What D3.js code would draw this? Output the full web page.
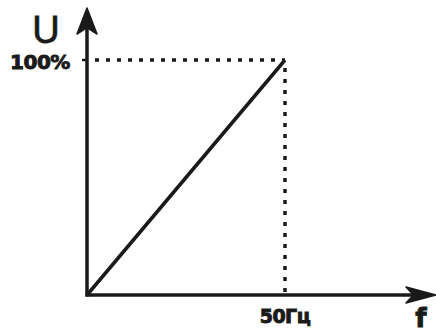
<!DOCTYPE html>
<html>
<head>
<meta charset="utf-8">
<script src="https://cdn.jsdelivr.net/npm/d3@7"></script>
<style>
  html, body { margin: 0; padding: 0; background: #fff; }
  svg { display: block; }
</style>
</head>
<body>
<script>
// U/f characteristic: voltage rises linearly up to 100% at 50 Hz
const freq = [0, 50]
const volt = [0, 100]
const xTickLabels = ['50Гц']
const yTickLabels = ['100%']
const axisLabels = { x: 'f', y: 'U' }

const W = 436, H = 334
const ink = '#1a1a1a'

const x = d3.scaleLinear().domain([0, 50]).range([87, 285])
const y = d3.scaleLinear().domain([0, 100]).range([295, 60])

const svg = d3.select('body').append('svg')
  .attr('width', W).attr('height', H)

// barbed arrowhead, drawn as a path at the end of each axis
function arrowHead(g, tipX, tipY, angle, len, half) {
  g.append('path')
    .attr('d', `M0,0 L${-len},${-half} L${-len * 0.75},0 L${-len},${half} Z`)
    .attr('transform', `translate(${tipX},${tipY}) rotate(${angle})`)
    .attr('fill', ink)
    .attr('stroke', ink)
    .attr('stroke-width', 1.5)
    .attr('stroke-linejoin', 'round')
}

// guide lines (dotted)
const guides = svg.append('g')
  .attr('stroke', ink)
  .attr('stroke-width', 3.5)
  .attr('stroke-dasharray', '4 7')
  .attr('fill', 'none')

guides.append('line')
  .attr('x1', x(0) + 8).attr('x2', x(freq[1]))
  .attr('y1', y(volt[1])).attr('y2', y(volt[1]))
guides.append('line')
  .attr('x1', x(freq[1])).attr('x2', x(freq[1]))
  .attr('y1', y(volt[1]) + 8).attr('y2', y(0))

// axes
const axes = svg.append('g').attr('stroke', ink).attr('stroke-width', 3.5)
axes.append('line')
  .attr('x1', x(0)).attr('y1', y(0) + 1.5)
  .attr('x2', x(0)).attr('y2', 25)
axes.append('line')
  .attr('x1', x(0) - 1.5).attr('y1', y(0))
  .attr('x2', 420).attr('y2', y(0))
arrowHead(svg, x(0), 8, -90, 26, 10)
arrowHead(svg, 436, y(0), 0, 30, 8)

// small tick at 100%
axes.append('line')
  .attr('x1', x(0) - 5).attr('x2', x(0))
  .attr('y1', y(100)).attr('y2', y(100))
  .attr('stroke-width', 2.5)

// characteristic line
svg.append('path')
  .datum(freq.map((f, i) => [f, volt[i]]))
  .attr('fill', 'none')
  .attr('stroke', ink)
  .attr('stroke-width', 3.5)
  .attr('d', d3.line().x(d => x(d[0])).y(d => y(d[1])))

// labels
const bold = (sel, size) => sel
  .attr('font-family', 'DejaVu Sans')
  .attr('font-weight', 'bold')
  .attr('font-size', size)
  .attr('fill', ink)
  .attr('stroke', ink)
  .attr('stroke-width', 0.9)
  .attr('text-anchor', 'middle')

svg.append('text')
  .attr('x', 40).attr('y', y(100) + 9)
  .call(bold, 20)
  .attr('letter-spacing', -0.5)
  .text(yTickLabels[0])

svg.append('text')
  .attr('x', x(50)).attr('y', 323)
  .call(bold, 19)
  .attr('letter-spacing', -0.5)
  .text(xTickLabels[0])

svg.append('text')
  .attr('x', 46).attr('y', 43)
  .attr('text-anchor', 'middle')
  .attr('font-family', 'Liberation Sans')
  .attr('font-size', 38)
  .attr('fill', ink)
  .attr('stroke', ink)
  .attr('stroke-width', 0.8)
  .text(axisLabels.y)

svg.append('text')
  .attr('x', 421).attr('y', 327)
  .call(bold, 26)
  .text(axisLabels.x)
</script>
</body>
</html>
